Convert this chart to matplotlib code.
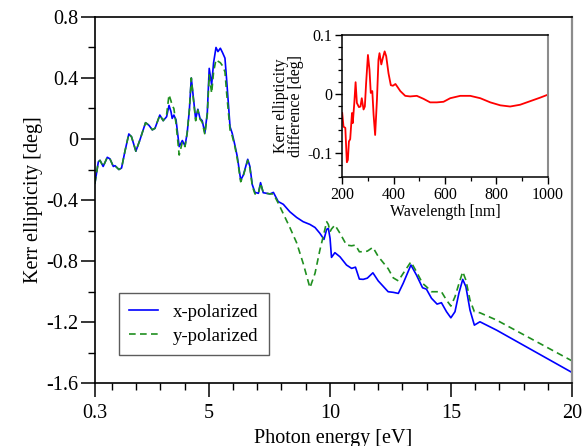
import matplotlib

matplotlib.use("Agg")
import matplotlib.pyplot as plt
from matplotlib.ticker import MultipleLocator, FixedLocator

plt.rcParams["font.family"] = ["Liberation Serif", "DejaVu Serif"]

# main panel: Kerr ellipticity vs photon energy
x_energy = [
    0.30, 0.44, 0.51, 0.64, 0.81, 0.92, 1.06, 1.13, 1.29, 1.40, 1.54, 1.70,
    1.81, 1.99, 2.16, 2.39, 2.53, 2.67, 2.78, 2.98, 3.12, 3.26, 3.36, 3.44,
    3.49, 3.56, 3.65, 3.78, 3.91, 4.02, 4.11, 4.20, 4.28, 4.36, 4.46, 4.55,
    4.64, 4.73, 4.84, 4.94, 5.02, 5.12, 5.20, 5.30, 5.38, 5.48, 5.57, 5.67,
    5.74, 5.88, 5.97, 6.08, 6.18, 6.32, 6.43, 6.61, 6.70, 6.80, 6.91, 7.05,
    7.14, 7.25, 7.39, 7.53, 7.67, 7.87, 8.08, 8.35, 8.63, 8.90, 9.18, 9.39,
    9.59, 9.76, 9.87, 9.94, 10.01, 10.07, 10.21, 10.42, 10.69, 10.90, 11.06,
    11.22, 11.38, 11.55, 11.78, 12.00, 12.41, 12.62, 12.83, 13.03, 13.35,
    13.58, 13.83, 13.99, 14.20, 14.43, 14.61, 14.82, 15.00, 15.17, 15.33,
    15.49, 15.62, 15.79, 15.97, 16.20, 16.89, 20.00,
]
kerr_x = [
    -0.29, -0.15, -0.14, -0.18, -0.12, -0.13, -0.18, -0.175, -0.20, -0.19,
    -0.08, 0.033, 0.015, -0.08, -0.005, 0.107, 0.09, 0.06, 0.07, 0.157, 0.12,
    0.146, 0.22, 0.18, 0.135, 0.157, 0.125, -0.05, -0.01, -0.045, 0.04, 0.19,
    0.40, 0.28, 0.13, 0.195, 0.135, 0.12, 0.04, 0.17, 0.463, 0.355, 0.50,
    0.60, 0.573, 0.595, 0.566, 0.53, 0.387, 0.08, 0.037, -0.04, -0.116,
    -0.27, -0.236, -0.133, -0.18, -0.30, -0.35, -0.356, -0.286, -0.352,
    -0.356, -0.36, -0.35, -0.41, -0.428, -0.477, -0.514, -0.542, -0.56,
    -0.58, -0.618, -0.658, -0.592, -0.586, -0.65, -0.776, -0.745, -0.772,
    -0.826, -0.848, -0.84, -0.918, -0.92, -0.912, -0.877, -0.93, -1.001,
    -1.005, -1.012, -0.946, -0.826, -0.892, -0.975, -0.984, -1.044, -1.082,
    -1.073, -1.132, -1.172, -1.132, -1.012, -0.92, -0.968, -1.121, -1.22,
    -1.198, -1.253, -1.53,
]
kerr_y = [
    -0.29, -0.15, -0.14, -0.18, -0.12, -0.13, -0.18, -0.175, -0.20, -0.19,
    -0.08, 0.033, 0.015, -0.08, -0.005, 0.107, 0.09, 0.06, 0.07, 0.157, 0.12,
    0.16, 0.29, 0.25, 0.22, 0.20, 0.10, -0.105, -0.02, -0.05, 0.04, 0.19,
    0.40, 0.27, 0.12, 0.19, 0.13, 0.11, 0.03, 0.16, 0.42, 0.30, 0.44, 0.52,
    0.51, 0.50, 0.48, 0.44, 0.30, 0.06, 0.02, -0.05, -0.13, -0.28, -0.24,
    -0.14, -0.19, -0.31, -0.36, -0.36, -0.29, -0.35, -0.356, -0.36, -0.36,
    -0.42, -0.49, -0.58, -0.68, -0.815, -0.975, -0.88, -0.728, -0.618,
    -0.542, -0.56, -0.608, -0.59, -0.564, -0.618, -0.695, -0.70, -0.695,
    -0.739, -0.739, -0.735, -0.71, -0.77, -0.85, -0.91, -0.93, -0.881,
    -0.805, -0.87, -0.946, -0.968, -1.001, -1.001, -1.001, -1.056, -1.095,
    -1.034, -0.95, -0.87, -0.925, -1.056, -1.132, -1.139, -1.187, -1.454,
]

# inset: difference vs wavelength
wavelength = [
    200, 205, 212, 218, 222, 226, 231, 238, 241, 247, 252, 257, 265, 271,
    276, 283, 288, 293, 300, 306, 311, 317, 322, 328, 335, 341, 345, 352,
    358, 365, 371, 380, 389, 397, 407, 415, 426, 445, 464, 490, 516, 542,
    568, 594, 620, 659, 698, 737, 776, 815, 853, 892, 931, 970, 1000,
]
kerr_diff = [
    -0.032, -0.055, -0.057, -0.115, -0.111, -0.08, -0.076, -0.032, -0.049,
    -0.015, 0.020, -0.015, -0.022, -0.021, -0.007, -0.026, -0.021, 0.019,
    0.066, 0.041, 0.002, 0.005, -0.035, -0.069, -0.010, 0.058, 0.069, 0.050,
    0.061, 0.072, 0.064, 0.035, 0.015, 0.014, 0.017, 0.012, 0.005, -0.003,
    -0.004, -0.003, -0.008, -0.014, -0.014, -0.013, -0.007, -0.003, -0.003,
    -0.007, -0.014, -0.019, -0.021, -0.018, -0.012, -0.006, -0.001,
]

x_ticks = [0.3, 5, 10, 15, 20]
x_tick_labels = ["0.3", "5", "10", "15", "20"]
y_ticks = [-1.6, -1.2, -0.8, -0.4, 0, 0.4, 0.8]
y_tick_labels = ["-1.6", "-1.2", "-0.8", "-0.4", "0", "0.4", "0.8"]
inset_x_ticks = [200, 400, 600, 800, 1000]
inset_y_ticks = [-0.1, 0, 0.1]
inset_y_tick_labels = ["-0.1", "0", "0.1"]


def style_spines(ax, lw):
    for side in ["left", "bottom", "top"]:
        ax.spines[side].set_linewidth(lw)
        ax.spines[side].set_color("black")
    ax.spines["right"].set_linewidth(lw + 0.4)
    ax.spines["right"].set_color("#8c8c8c")


fig = plt.figure(figsize=(5.86, 4.46), dpi=100)
ax = fig.add_axes([0.162, 0.141, 0.814, 0.821])

ax.plot(x_energy, kerr_x, color="blue", lw=1.2, label="x-polarized")
ax.plot(x_energy, kerr_y, color="#1f8f1f", lw=1.2, ls=(0, (4, 2.6)),
        label="y-polarized")

ax.set_xlim(0.3, 20)
ax.set_ylim(-1.6, 0.8)
ax.set_xticks(x_ticks)
ax.set_xticklabels(x_tick_labels)
ax.xaxis.set_minor_locator(FixedLocator(range(1, 20)))
ax.set_yticks(y_ticks)
ax.set_yticklabels(y_tick_labels)
ax.yaxis.set_minor_locator(MultipleLocator(0.2))
ax.tick_params(which="major", direction="out", length=10, width=1.1,
               labelsize=14.5, pad=2)
ax.tick_params(axis="x", which="major", pad=5)
ax.tick_params(which="minor", direction="out", length=5, width=1.0)
style_spines(ax, 1.2)
ax.set_xlabel("Photon energy [eV]", fontsize=14.5, labelpad=4)
ax.set_ylabel("Kerr ellipticity [deg]", fontsize=14.5, labelpad=2)

leg = ax.legend(loc="lower left", bbox_to_anchor=(0.05, 0.077),
                borderaxespad=0, fontsize=13.5, fancybox=False,
                handlelength=1.55, handletextpad=0.8, borderpad=0.55,
                labelspacing=0.35)
leg.get_frame().set_edgecolor("#333333")
leg.get_frame().set_linewidth(1.0)

# inset
axi = fig.add_axes([0.584, 0.603, 0.351, 0.319])
axi.plot(wavelength, kerr_diff, color="red", lw=1.3)
axi.set_xlim(200, 1000)
axi.set_ylim(-0.14, 0.1)
axi.set_xticks(inset_x_ticks)
axi.xaxis.set_minor_locator(MultipleLocator(100))
axi.set_yticks(inset_y_ticks)
axi.set_yticklabels(inset_y_tick_labels)
axi.yaxis.set_minor_locator(MultipleLocator(0.02))
axi.tick_params(which="major", direction="out", length=5, width=1.0,
                labelsize=11.5, pad=2)
axi.tick_params(which="minor", direction="out", length=3, width=0.9)
style_spines(axi, 1.1)
axi.set_xlabel("Wavelength [nm]", fontsize=11.5, labelpad=1)
axi.set_ylabel("Kerr ellipticity\ndifference [deg]", fontsize=11.5,
               labelpad=2, linespacing=0.95)

fig.savefig("out.png", dpi=100)
